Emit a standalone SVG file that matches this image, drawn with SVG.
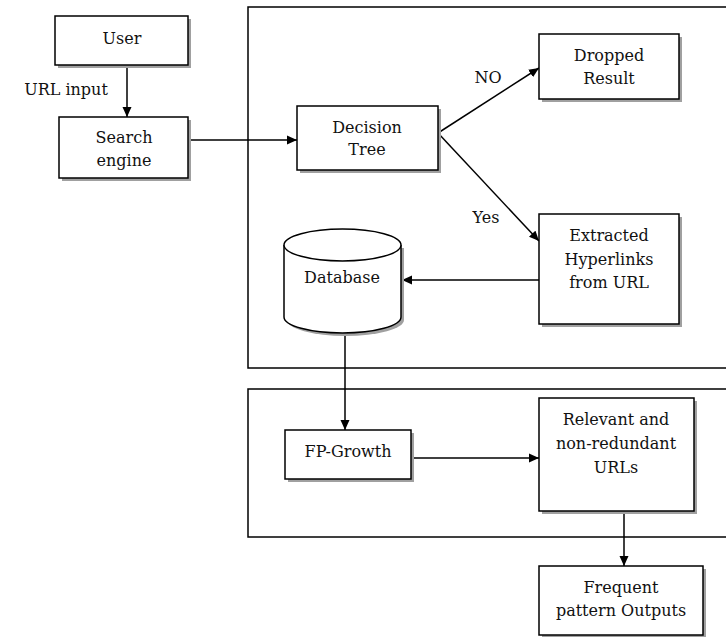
<svg xmlns="http://www.w3.org/2000/svg" width="726" height="637" viewBox="0 0 726 637">
<defs>
<marker id="arr" viewBox="0 0 10 10" refX="10" refY="5" markerWidth="10" markerHeight="10" markerUnits="userSpaceOnUse" orient="auto">
<path d="M0,0.5 L10,5 L0,9.5 Z" fill="#000"/>
</marker>
</defs>
<style>
.box{fill:#fff;stroke:#000;stroke-width:1.5}
.sh{fill:#a0a0a0}
.frame{fill:none;stroke:#000;stroke-width:1.5}
.ln{fill:none;stroke:#000;stroke-width:1.5}
.a{marker-end:url(#arr)}
text{font-family:"DejaVu Serif","Liberation Serif",serif;font-size:16px;fill:#111;text-anchor:middle;dominant-baseline:central}
</style>
<rect width="726" height="637" fill="#fff"/>
<g id="frames">
<rect class="frame" x="248" y="7" width="490" height="361"/>
<rect class="frame" x="248" y="389" width="490" height="148"/>
</g>
<g id="connectors">
<line class="ln a" x1="127" y1="65" x2="127" y2="117"/>
<line class="ln a" x1="188" y1="140" x2="297" y2="140"/>
<line class="ln a" x1="438" y1="133" x2="539" y2="68"/>
<line class="ln a" x1="438" y1="133" x2="539" y2="241"/>
<line class="ln a" x1="539" y1="280" x2="402" y2="280"/>
<line class="ln a" x1="345" y1="334" x2="345" y2="430"/>
<line class="ln a" x1="411" y1="458" x2="539" y2="458"/>
<line class="ln a" x1="624" y1="511" x2="624" y2="566"/>
<text x="66" y="89">URL input</text>
<text x="488" y="77">NO</text>
<text x="486" y="217">Yes</text>
</g>
<g id="user">
<rect class="sh" x="58" y="19" width="133" height="49"/>
<rect class="box" x="55" y="16" width="133" height="49"/>
<text x="122" y="38">User</text>
</g>
<g id="search">
<rect class="sh" x="62" y="120" width="129" height="61"/>
<rect class="box" x="59" y="117" width="129" height="61"/>
<text x="124" y="137">Search</text>
<text x="124" y="160">engine</text>
</g>
<g id="decision">
<rect class="sh" x="300" y="109" width="141" height="64"/>
<rect class="box" x="297" y="106" width="141" height="64"/>
<text x="367" y="127">Decision</text>
<text x="367" y="149">Tree</text>
</g>
<g id="dropped">
<rect class="sh" x="542" y="37" width="140" height="65"/>
<rect class="box" x="539" y="34" width="140" height="65"/>
<text x="609" y="55">Dropped</text>
<text x="609" y="78">Result</text>
</g>
<g id="extracted">
<rect class="sh" x="542" y="217" width="140" height="110"/>
<rect class="box" x="539" y="214" width="140" height="110"/>
<text x="609" y="235">Extracted</text>
<text x="609" y="259">Hyperlinks</text>
<text x="609" y="282">from URL</text>
</g>
<g id="database">
<path class="sh" d="M287,248 L287,320 A58.5,16 0 0 0 404,320 L404,248 Z"/>
<path class="box" d="M284,245 L284,317 A58.5,16 0 0 0 401,317 L401,245"/>
<ellipse class="box" cx="342.5" cy="245" rx="58.5" ry="16"/>
<text x="342" y="277">Database</text>
</g>
<g id="fpgrowth">
<rect class="sh" x="288" y="433" width="126" height="49"/>
<rect class="box" x="285" y="430" width="126" height="49"/>
<text x="348" y="451">FP-Growth</text>
</g>
<g id="relevant">
<rect class="sh" x="542" y="401" width="155" height="113"/>
<rect class="box" x="539" y="398" width="155" height="113"/>
<text x="616" y="419">Relevant and</text>
<text x="616" y="443">non-redundant</text>
<text x="616" y="467">URLs</text>
</g>
<g id="frequent">
<rect class="sh" x="542" y="569" width="164" height="69"/>
<rect class="box" x="539" y="566" width="164" height="69"/>
<text x="621" y="587">Frequent</text>
<text x="621" y="610">pattern Outputs</text>
</g>
</svg>
